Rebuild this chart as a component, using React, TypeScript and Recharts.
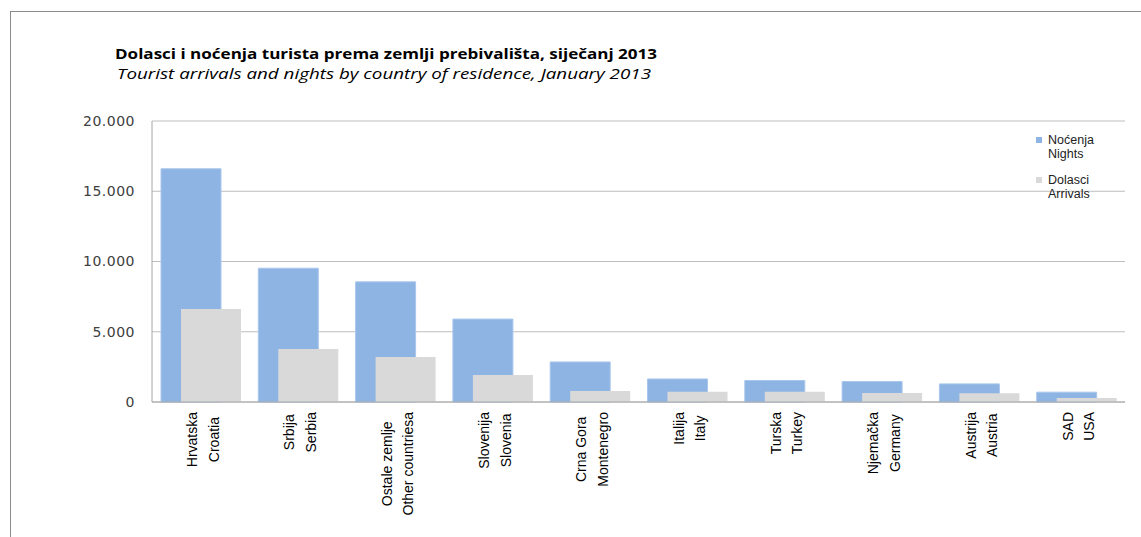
import { BarChart, Bar, XAxis, YAxis, CartesianGrid } from "recharts";

const countriesHr = [
  "Hrvatska",
  "Srbija",
  "Ostale zemlje",
  "Slovenija",
  "Crna Gora",
  "Italija",
  "Turska",
  "Njemačka",
  "Austrija",
  "SAD",
];
const countriesEn = [
  "Croatia",
  "Serbia",
  "Other countriesa",
  "Slovenia",
  "Montenegro",
  "Italy",
  "Turkey",
  "Germany",
  "Austria",
  "USA",
];
const nights = [16600, 9520, 8550, 5900, 2850, 1640, 1530, 1460, 1290, 700];
const arrivals = [6620, 3780, 3200, 1920, 790, 730, 730, 640, 630, 280];
const yTicks = [0, 5000, 10000, 15000, 20000];

const data = countriesHr.map((hr, i) => ({
  hr,
  en: countriesEn[i],
  nights: nights[i],
  arrivals: arrivals[i],
}));

const TICK_FONT = "14px 'Liberation Sans'";
let ctx: CanvasRenderingContext2D | null = null;
function textWidth(t: string, font: string) {
  if (!ctx) ctx = document.createElement("canvas").getContext("2d");
  if (!ctx) return t.length * 7;
  ctx.font = font;
  return ctx.measureText(t).width;
}

// two-line rotated label, lines centred on each other, block top at the axis
function CountryTick(props: any) {
  const { x, y, payload } = props;
  const i = countriesHr.indexOf(payload.value);
  const lines = [countriesHr[i], countriesEn[i]];
  const w = Math.max(...lines.map((l) => textWidth(l, TICK_FONT)));
  return (
    <g transform={`translate(${x},${y})`}>
      {lines.map((l, k) => (
        <text
          key={k}
          transform={`translate(${k === 0 ? -3.5 : 18},${w / 2}) rotate(-90)`}
          textAnchor="middle"
          fontFamily="Liberation Sans"
          fontSize={14}
          fill="#000"
        >
          {l}
        </text>
      ))}
    </g>
  );
}

const legendItems = [
  { color: "#8EB4E3", hr: "Noćenja", en: "Nights" },
  { color: "#D9D9D9", hr: "Dolasci", en: "Arrivals" },
];

function ChartLegend() {
  return (
    <div
      style={{
        position: "absolute",
        left: 1036,
        top: 133,
        fontFamily: "Liberation Sans",
        fontSize: 12.5,
        color: "#222",
        lineHeight: "14px",
      }}
    >
      {legendItems.map((it, k) => (
        <div key={k} style={{ position: "relative", paddingLeft: 12, marginBottom: 12 }}>
          <span
            style={{
              position: "absolute",
              left: 0,
              top: 4,
              width: 6,
              height: 6,
              background: it.color,
            }}
          />
          <div>{it.hr}</div>
          <div>{it.en}</div>
        </div>
      ))}
    </div>
  );
}

export default function App() {
  return (
    <div
      style={{
        position: "fixed",
        left: 0,
        top: 0,
        width: 1141,
        height: 537,
        background: "#fff",
        overflow: "hidden",
      }}
    >
      <div
        style={{
          position: "absolute",
          left: 10,
          top: 11,
          right: -4,
          bottom: -4,
          borderTop: "1.5px solid #8c8c8c",
          borderLeft: "1.5px solid #8c8c8c",
        }}
      />
      <svg
        width={700}
        height={100}
        style={{ position: "absolute", left: 0, top: 0 }}
        fontFamily="Open Sans"
        fontSize={15}
      >
        <text x={115} y={59} fontWeight={700} textLength={542} lengthAdjust="spacingAndGlyphs">
          Dolasci i noćenja turista prema zemlji prebivališta, siječanj 2013
        </text>
        <text x={117} y={79} fontStyle="italic" textLength={534} lengthAdjust="spacingAndGlyphs">
          Tourist arrivals and nights by country of residence, January 2013
        </text>
      </svg>
      <div style={{ position: "absolute", left: 0, top: 0 }}>
        <BarChart
          width={1141}
          height={537}
          data={data}
          margin={{ top: 121, right: 16, bottom: 0, left: 0 }}
          barGap={-40}
        >
          <CartesianGrid vertical={false} stroke="#bfbfbf" />
          <XAxis
            dataKey="hr"
            interval={0}
            height={135}
            tickLine={false}
            tickSize={0}
            tickMargin={10}
            axisLine={{ stroke: "#a6a6a6" }}
            tick={<CountryTick />}
          />
          <YAxis
            width={152}
            domain={[0, 20000]}
            ticks={yTicks}
            tickLine={false}
            tickSize={0}
            tickMargin={17}
            axisLine={{ stroke: "#a6a6a6" }}
            tick={{ fontFamily: "DejaVu Sans", fontSize: 14, fill: "#404040", letterSpacing: 0.5 }}
            tickFormatter={(v) => Number(v).toLocaleString("de-DE")}
          />
          <Bar
            dataKey="nights"
            name="Noćenja"
            fill="#8EB4E3"
            stroke="#a9c6ec"
            strokeWidth={1}
            barSize={60}
            isAnimationActive={false}
          />
          <Bar
            dataKey="arrivals"
            name="Dolasci"
            fill="#D9D9D9"
            barSize={60}
            isAnimationActive={false}
          />
        </BarChart>
      </div>
      <ChartLegend />
    </div>
  );
}
